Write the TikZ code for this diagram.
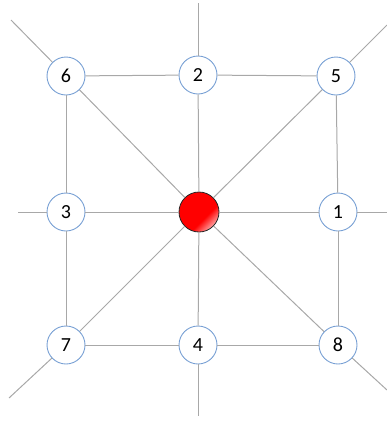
\documentclass[tikz,border=0pt]{standalone}
\usepackage{fontspec}
\setmainfont{Carlito}
\usepackage{tikz}
\usetikzlibrary{positioning}
\definecolor{ringblue}{RGB}{120,160,212}
\definecolor{linegray}{RGB}{168,168,168}
\pgfdeclareverticalshading{hubshade}{100bp}{color(0bp)=(red!35!white); color(25bp)=(red!35!white); color(40bp)=(red); color(100bp)=(red)}

\begin{document}
\begin{tikzpicture}[x=1pt,y=-1pt,
  dot/.style={circle, draw=ringblue, line width=0.9pt, fill=white, minimum size=38pt, inner sep=0pt, font=\fontsize{20}{20}\selectfont},
  hub/.style={circle, draw=black!85, line width=0.8pt, minimum size=40pt, inner sep=0pt, shading=hubshade, shading angle=45},
  link/.style={draw=linegray, line width=1pt}]
\useasboundingbox (0,0) rectangle (387,421);

% Neighbours
\node[hub] (c) at (199,212) {};
\node[dot] (n1) at (338,212) {1};
\node[dot] (n2) at (198,75) {2};
\node[dot] (n3) at (66,212) {3};
\node[dot] (n4) at (198,345) {4};
\node[dot] (n5) at (336,76) {5};
\node[dot] (n6) at (66,76) {6};
\node[dot] (n7) at (66,345) {7};
\node[dot] (n8) at (338,345) {8};

% Free ends
\coordinate (top) at (198,3);
\coordinate (bot) at (198,416);
\coordinate (lft) at (18,212);
\coordinate (rgt) at (387,212);
\coordinate (tl) at (11,20);
\coordinate (br) at (387,390);
\coordinate (tr) at (387,25);
\coordinate (bl) at (9,398);

% Links
\foreach \a/\b in {n6/n2, n2/n5, n6/n3, n3/n7, n7/n4, n4/n8, n5/n1, n1/n8,
                   top/n2, n2/c, c/n4, n4/bot, lft/n3, n3/c, c/n1, n1/rgt,
                   tl/n6, n6/c, c/n8, n8/br, tr/n5, n5/c, c/n7, n7/bl}
  \draw[link] (\a) -- (\b);
\end{tikzpicture}
\end{document}
